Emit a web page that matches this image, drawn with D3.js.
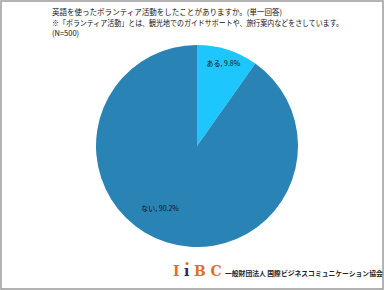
<!DOCTYPE html>
<html>
<head>
<meta charset="utf-8">
<script src="https://cdn.jsdelivr.net/npm/d3@7"></script>
<style>
  html, body { margin: 0; padding: 0; background: #fff; }
</style>
</head>
<body>
<div id="pieChart"></div>
<script>
var titleLines = [
    '英語を使ったボランティア活動をしたことがありますか。(単一回答)',
    '※「ボランティア活動」とは、観光地でのガイドサポートや、旅行案内などをさしています。',
    '(N=500)'
];
var categories = ['ある', 'ない'];
var values = [9.8, 90.2];
var colors = ['#1ec6fe', '#2983b5'];
var orgName = '一般財団法人 国際ビジネスコミュニケーション協会';

var width = 384;
var height = 290;
var jpFont = '"Noto Sans CJK JP", sans-serif';

var svg = d3.select('#pieChart')
.append('svg')
.attr('width', width)
.attr('height', height);

//outer frame
svg.append('rect')
.attr('x', 1).attr('y', 1)
.attr('width', width - 2).attr('height', height - 2)
.attr('fill', 'none')
.attr('stroke', '#9a9a9a')
.attr('stroke-width', 1.5);

//title lines, squeezed to the widths of the original
var titleWidths = [230, 291, null];
svg.selectAll('.title')
.data(titleLines)
.enter().append('text')
.attr('class', 'title')
.attr('x', 52)
.attr('y', (d, i) => 15 + i * 10.5)
.attr('font-family', jpFont)
.attr('font-size', 7.5)
.attr('fill', '#111')
.each(function(d, i) {
    if (titleWidths[i]) {
        d3.select(this).attr('textLength', titleWidths[i]).attr('lengthAdjust', 'spacingAndGlyphs');
    }
})
.text(d => d);

var data = categories.map((c, i) => ({name: c, value: values[i]}));

var radius = 101;
var cx = 197, cy = 146;

var pie = d3.pie().sort(null).value(d => d.value);
var arc = d3.arc().innerRadius(0).outerRadius(radius);

var g = svg.append('g').attr('transform', 'translate(' + cx + ',' + cy + ')');

g.selectAll('path')
.data(pie(data))
.enter().append('path')
.attr('d', arc)
.attr('fill', (d, i) => colors[i]);

//label placement, roughly where the original put them
var labelRadius = [87, 73];
var labelShift = [0, 0.223];
g.selectAll('.label')
.data(pie(data))
.enter().append('text')
.attr('class', 'label')
.attr('transform', (d, i) => {
    var a = (d.startAngle + d.endAngle) / 2 + labelShift[i];
    return 'translate(' + (Math.sin(a) * labelRadius[i]) + ',' + (-Math.cos(a) * labelRadius[i]) + ')';
})
.attr('text-anchor', 'middle')
.attr('dy', '0.35em')
.attr('font-family', jpFont)
.attr('font-size', 7)
.attr('fill', '#111')
.text(d => d.data.name + ', ' + d.data.value.toFixed(1) + '%');

//logo
var logo = svg.append('text')
.attr('x', 173)
.attr('y', 276)
.attr('font-family', '"DejaVu Serif", "Liberation Serif", serif')
.attr('font-weight', 'bold')
.attr('font-size', 14)
.attr('letter-spacing', 4.5);
logo.append('tspan').attr('fill', '#e07028').text('I');
logo.append('tspan').attr('fill', '#1c2a6a').text('ı');
logo.append('tspan').attr('fill', '#e07028').text('BC');
svg.append('circle')
.attr('cx', 187).attr('cy', 263.5).attr('r', 1.6)
.attr('fill', '#e07028');

svg.append('text')
.attr('x', 225)
.attr('y', 276)
.attr('font-family', jpFont)
.attr('font-size', 6.8)
.attr('font-weight', 'bold')
.attr('fill', '#222')
.text(orgName);
</script>
</body>
</html>
